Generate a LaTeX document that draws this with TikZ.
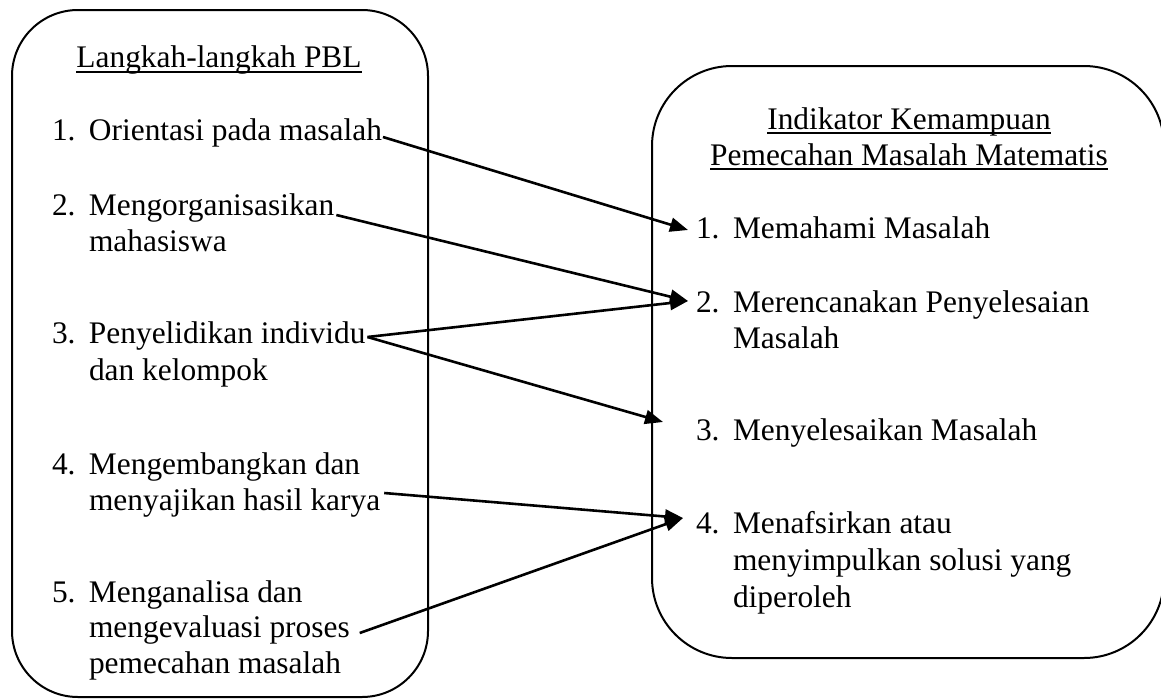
\documentclass[tikz,border=0pt]{standalone}
\usepackage{fontspec}
\setmainfont{Liberation Serif}
\usetikzlibrary{arrows.meta}
\newcommand{\itemfont}{\fontsize{31.4}{36}\selectfont}
\newcommand{\numbox}[1]{\makebox[37pt][l]{#1}}
\begin{document}
\begin{tikzpicture}[x=1pt,y=-1pt,
  panel/.style={draw=black, line width=2pt},
  txt/.style={anchor=base west, inner sep=0pt, outer sep=0pt, font=\itemfont, text=black},
  ttl/.style={anchor=base, inner sep=0pt, outer sep=0pt, font=\itemfont, text=black},
  uline/.style={draw=black, line width=2pt},
  link/.style={draw=black, line width=2.6pt, -{Triangle[length=18pt,width=14pt]}},
]
\useasboundingbox (0,0) rectangle (1161,699);
\clip (0,0) rectangle (1161,699);
\fill[white] (0,0) rectangle (1161,699);

% panels
\draw[panel, rounded corners=66pt] (12,10) rectangle (428,697);
\draw[panel, rounded corners=80pt] (652,66) rectangle (1164,658);

% left panel text
\node[ttl] (LT) at (219,67) {Langkah-langkah PBL};
\draw[uline] ([yshift=-5pt]LT.base west) -- ([yshift=-5pt]LT.base east);
\node[txt] (L1) at (52,140) {\numbox{1.}Orientasi pada masalah};
\node[txt] (L2a) at (52,215) {\numbox{2.}Mengorganisasikan};
\node[txt] (L2b) at (89,251) {mahasiswa};
\node[txt] (L3a) at (52,343) {\numbox{3.}Penyelidikan individu};
\node[txt] (L3b) at (89,380) {dan kelompok};
\node[txt] (L4a) at (52,474) {\numbox{4.}Mengembangkan dan};
\node[txt] (L4b) at (89,510) {menyajikan hasil karya};
\node[txt] (L5a) at (52,602) {\numbox{5.}Menganalisa dan};
\node[txt] (L5b) at (89,637) {mengevaluasi proses};
\node[txt] (L5c) at (89,673) {pemecahan masalah};

% right panel text
\node[ttl] (RT1) at (909,129) {Indikator Kemampuan};
\draw[uline] ([yshift=-4pt]RT1.base west) -- ([yshift=-4pt]RT1.base east);
\node[ttl] (RT2) at (909,165) {Pemecahan Masalah Matematis};
\draw[uline] ([yshift=-4pt]RT2.base west) -- ([yshift=-4pt]RT2.base east);
\node[txt] (R1) at (696,238) {\numbox{1.}Memahami Masalah};
\node[txt] (R2a) at (696,312) {\numbox{2.}Merencanakan Penyelesaian};
\node[txt] (R2b) at (733,348) {Masalah};
\node[txt] (R3) at (696,440) {\numbox{3.}Menyelesaikan Masalah};
\node[txt] (R4a) at (696,533) {\numbox{4.}Menafsirkan atau};
\node[txt] (R4b) at (733,570) {menyimpulkan solusi yang};
\node[txt] (R4c) at (733,607) {diperoleh};

% connectors
\draw[link] ([xshift=1pt,yshift=3pt]L1.base east) -- ([xshift=-8pt,yshift=8pt]R1.base west);
\draw[link] ([xshift=2pt,yshift=0pt]L2a.base east) -- ([xshift=-8pt,yshift=11pt]R2a.base west);
\draw[link] ([xshift=2pt,yshift=6pt]L3a.base east) -- ([xshift=-8pt,yshift=11pt]R2a.base west);
\draw[link] ([xshift=2pt,yshift=6pt]L3a.base east) -- ([xshift=-33pt,yshift=18pt]R3.base west);
\draw[link] ([xshift=4pt,yshift=17pt]L4b.base east) -- ([xshift=-13pt,yshift=15pt]R4a.base west);
\draw[link] ([xshift=10pt,yshift=4pt]L5b.base east) -- ([xshift=-13pt,yshift=15pt]R4a.base west);
\end{tikzpicture}
\end{document}
